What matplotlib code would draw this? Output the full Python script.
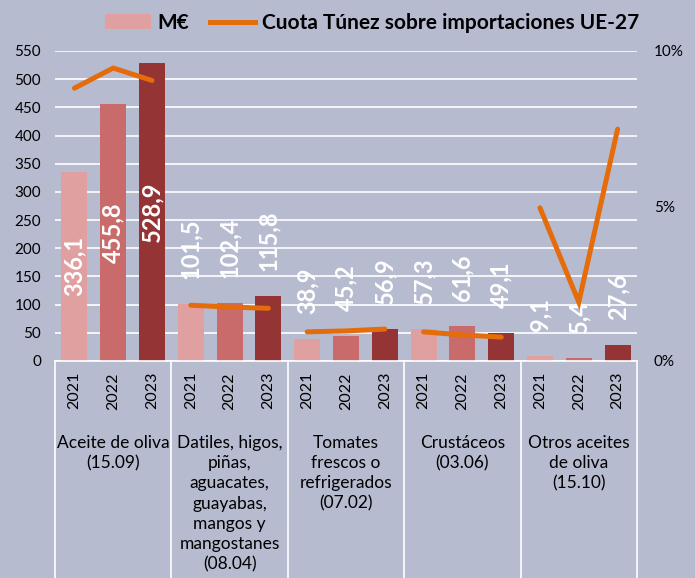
import matplotlib.pyplot as plt
from matplotlib.patches import Patch
from matplotlib.lines import Line2D
from matplotlib.transforms import blended_transform_factory

plt.rcParams['font.family'] = ['Lato', 'DejaVu Sans']

groups = ["Aceite de oliva\n(15.09)",
          "Datiles, higos,\npiñas,\naguacates,\nguayabas,\nmangos y\nmangostanes\n(08.04)",
          "Tomates\nfrescos o\nrefrigerados\n(07.02)",
          "Crustáceos\n(03.06)",
          "Otros aceites\nde oliva\n(15.10)"]
years = ["2021", "2022", "2023"]
meur = [336.1, 455.8, 528.9,
        101.5, 102.4, 115.8,
        38.9, 45.2, 56.9,
        57.3, 61.6, 49.1,
        9.1, 5.4, 27.6]
share = [8.8, 9.45, 9.05,
         1.8, 1.74, 1.7,
         0.94, 0.97, 1.03,
         0.94, 0.84, 0.77,
         4.94, 1.9, 7.48]

bg = "#B7BBD0"
bar_colors = ["#E0A0A0", "#C96B6B", "#943435"]
line_color = "#E46C0A"

fig = plt.figure(figsize=(6.95, 5.78), dpi=100, facecolor=bg)
ax = fig.add_axes([55 / 695, 1 - 361 / 578, 582 / 695, 310 / 578])
ax.set_facecolor(bg)

n = len(meur)
x = list(range(n))
cols = [bar_colors[i % 3] for i in range(n)]
ax.bar(x, meur, width=0.67, color=cols, zorder=2)

for xi, v in zip(x, meur):
    lbl = f"{v:.1f}".replace(".", ",")
    if v > 300:
        ax.text(xi, v / 2, lbl, rotation=90, ha="center", va="center",
                color="white", fontsize=17, fontweight="bold", zorder=4)
    else:
        ax.annotate(lbl, (xi, v), xytext=(0, 18), textcoords="offset points",
                    rotation=90, ha="center", va="bottom",
                    color="white", fontsize=17, fontweight="bold", zorder=4)

ax.set_xlim(-0.5, n - 0.5)
ax.set_ylim(0, 550)
ax.set_yticks(range(0, 551, 50))
ax.yaxis.grid(True, color="white", lw=1.2, zorder=0)
ax.set_axisbelow(True)
for s in ["top", "right", "left"]:
    ax.spines[s].set_visible(False)
ax.spines["bottom"].set_color("white")
ax.spines["bottom"].set_linewidth(1.2)
ax.tick_params(axis="y", length=0, labelsize=11, pad=10)
ax.set_xticks(x)
ax.set_xticklabels(years * len(groups), rotation=90, fontsize=11.5)
ax.tick_params(axis="x", length=0, pad=8)

ax2 = ax.twinx()
ax2.set_ylim(0, 10)
ax2.set_yticks([0, 5, 10])
ax2.set_yticklabels(["0%", "5%", "10%"])
ax2.tick_params(axis="y", length=0, labelsize=11, pad=12)
for s in ax2.spines.values():
    s.set_visible(False)
for g in range(len(groups)):
    ax2.plot(x[g * 3:g * 3 + 3], share[g * 3:g * 3 + 3], color=line_color,
             lw=3.6, solid_capstyle="round", solid_joinstyle="miter", zorder=5)

trans = blended_transform_factory(ax.transData, ax.transAxes)
for g, name in enumerate(groups):
    ax.text(g * 3 + 1, -0.238, name, transform=trans, ha="center", va="top",
            fontsize=12.5, linespacing=1.33)
for b in range(len(groups) + 1):
    ax.plot([b * 3 - 0.5, b * 3 - 0.5], [0, -0.72], transform=trans,
            color="white", lw=1.2, clip_on=False)

handles = [Patch(facecolor=bar_colors[0]),
           Line2D([], [], color=line_color, lw=3.6)]
fig.legend(handles, ["M€", "Cuota Túnez sobre importaciones UE-27"],
           loc="upper center", bbox_to_anchor=(372 / 695, 1.01), ncol=2,
           frameon=False, prop={"weight": "bold", "size": 15},
           handlelength=2.2, handletextpad=0.3, columnspacing=1.0)

fig.savefig("out.png", dpi=100, facecolor=bg)
